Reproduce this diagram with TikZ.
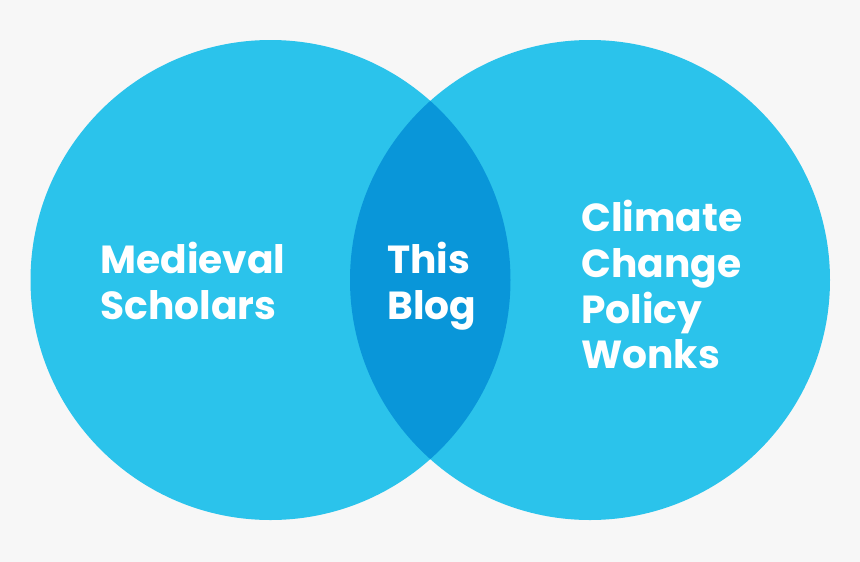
\documentclass[tikz,border=0pt]{standalone}
\usepackage{fontspec}
\setmainfont{Poppins}
\usepackage{tikz}
\usetikzlibrary{positioning}
\definecolor{bgGray}{HTML}{F7F7F7}
\definecolor{vennBlue}{HTML}{2BC3EB}
\definecolor{vennDark}{HTML}{0996D9}

\begin{document}
\begin{tikzpicture}[x=0.02cm, y=-0.02cm,
    label/.style={text=white, align=left, anchor=base west, inner sep=0pt,
        font=\fontsize{22.3}{25.9}\selectfont\bfseries}]
    % 背景
    \fill[bgGray] (0,0) rectangle (860,562);
    \useasboundingbox (0,0) rectangle (860,562);

    % 两个圆
    \coordinate (cL) at (270.5,280);
    \coordinate (cR) at (590,280);
    \fill[vennBlue] (cL) circle (240);
    \fill[vennBlue] (cR) circle (240);

    % 交集
    \begin{scope}
        \clip (cL) circle (240);
        \fill[vennDark] (cR) circle (240);
    \end{scope}

    % 文字
    \node[label] (scholars) at (100,319) {Medieval\\Scholars};
    \node[label] (blog) at (387,319) {This\\Blog};
    \node[label] (wonks) at (581,368.5) {Climate\\Change\\Policy\\Wonks};
\end{tikzpicture}
\end{document}
